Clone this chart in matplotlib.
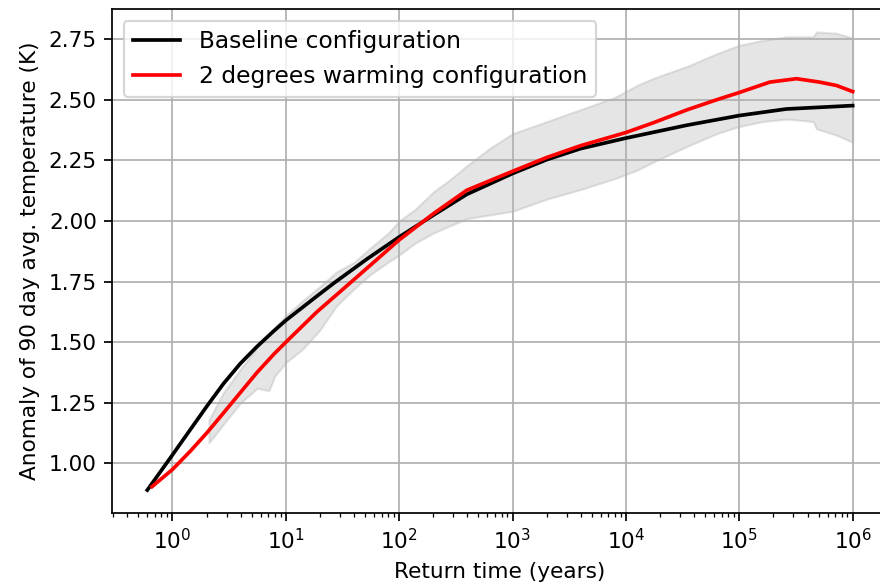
import numpy as np
import matplotlib
matplotlib.use("Agg")
import matplotlib.pyplot as plt

# return time (years) and return levels
base_t = [0.6, 1.0, 1.44, 2.02, 2.83, 3.97, 5.57, 7.82, 10, 18.8, 26.4, 51.9, 100,
          200, 395, 1000, 2000, 3940, 1e4, 34300, 1e5, 2.6e5, 1e6]
base_y = [0.89, 1.035, 1.14, 1.237, 1.33, 1.412, 1.482, 1.546, 1.59, 1.69, 1.743,
          1.843, 1.934, 2.024, 2.11, 2.196, 2.253, 2.298, 2.342, 2.395, 2.435, 2.462,
          2.476]

warm_t = [0.66, 1.0, 1.44, 2.02, 2.83, 3.97, 5.57, 7.82, 10, 18.8, 26.4, 51.9, 100,
          200, 395, 1000, 2000, 3940, 1e4, 17400, 34300, 63000, 1e5, 1.86e5, 3.2e5,
          5.1e5, 7.2e5, 1e6]
warm_y = [0.904, 0.975, 1.051, 1.127, 1.209, 1.292, 1.375, 1.45, 1.50, 1.625, 1.685,
          1.805, 1.922, 2.03, 2.127, 2.205, 2.262, 2.31, 2.365, 2.405, 2.458, 2.50,
          2.53, 2.573, 2.587, 2.573, 2.559, 2.534]

# spread of the ensemble (shaded band)
band_t = [2.1, 2.8, 4.0, 5.6, 7.1, 8.0, 10, 14, 20, 28, 40, 56, 80, 100, 140, 200, 280,
          400, 630, 1000, 2000, 4000, 8000, 12600, 17800, 35500, 63000, 1e5, 1.6e5,
          2.6e5, 3.5e5, 4.5e5, 4.8e5, 7.1e5, 1e6]
band_lo = [1.085, 1.16, 1.25, 1.31, 1.30, 1.36, 1.416, 1.47, 1.55, 1.65, 1.72, 1.78,
           1.83, 1.86, 1.91, 1.95, 1.98, 2.01, 2.025, 2.04, 2.09, 2.13, 2.175, 2.21,
           2.245, 2.31, 2.36, 2.39, 2.41, 2.42, 2.415, 2.41, 2.38, 2.355, 2.325]
band_hi = [1.18, 1.29, 1.39, 1.48, 1.53, 1.56, 1.61, 1.67, 1.73, 1.79, 1.83, 1.89,
           1.95, 2.00, 2.05, 2.12, 2.17, 2.23, 2.30, 2.36, 2.41, 2.46, 2.51, 2.56,
           2.59, 2.64, 2.69, 2.725, 2.745, 2.76, 2.76, 2.76, 2.78, 2.775, 2.755]

fig = plt.figure(figsize=(880 / 156, 585 / 156), dpi=156)
ax = fig.add_axes([0.1273, 0.1231, 1.009 - 0.1273, 0.9846 - 0.1231])

ax.fill_between(band_t, band_lo, band_hi, facecolor='gray', edgecolor='gray',
                alpha=0.2, lw=1)
ax.plot(base_t, base_y, 'k-', lw=1.7, label="Baseline configuration")
ax.plot(warm_t, warm_y, 'r-', lw=1.7, label="2 degrees warming configuration")
ax.set_xscale('log')
ax.set_yticks([1.0, 1.25, 1.5, 1.75, 2.0, 2.25, 2.5, 2.75])
ax.grid(which='major', color='#b0b0b0')
ax.legend(loc='upper left', fontsize=10.8)
ax.set_xlabel("Return time (years)")
ax.set_ylabel("Anomaly of 90 day avg. temperature (K)")

fig.savefig("out.png", dpi=156)
